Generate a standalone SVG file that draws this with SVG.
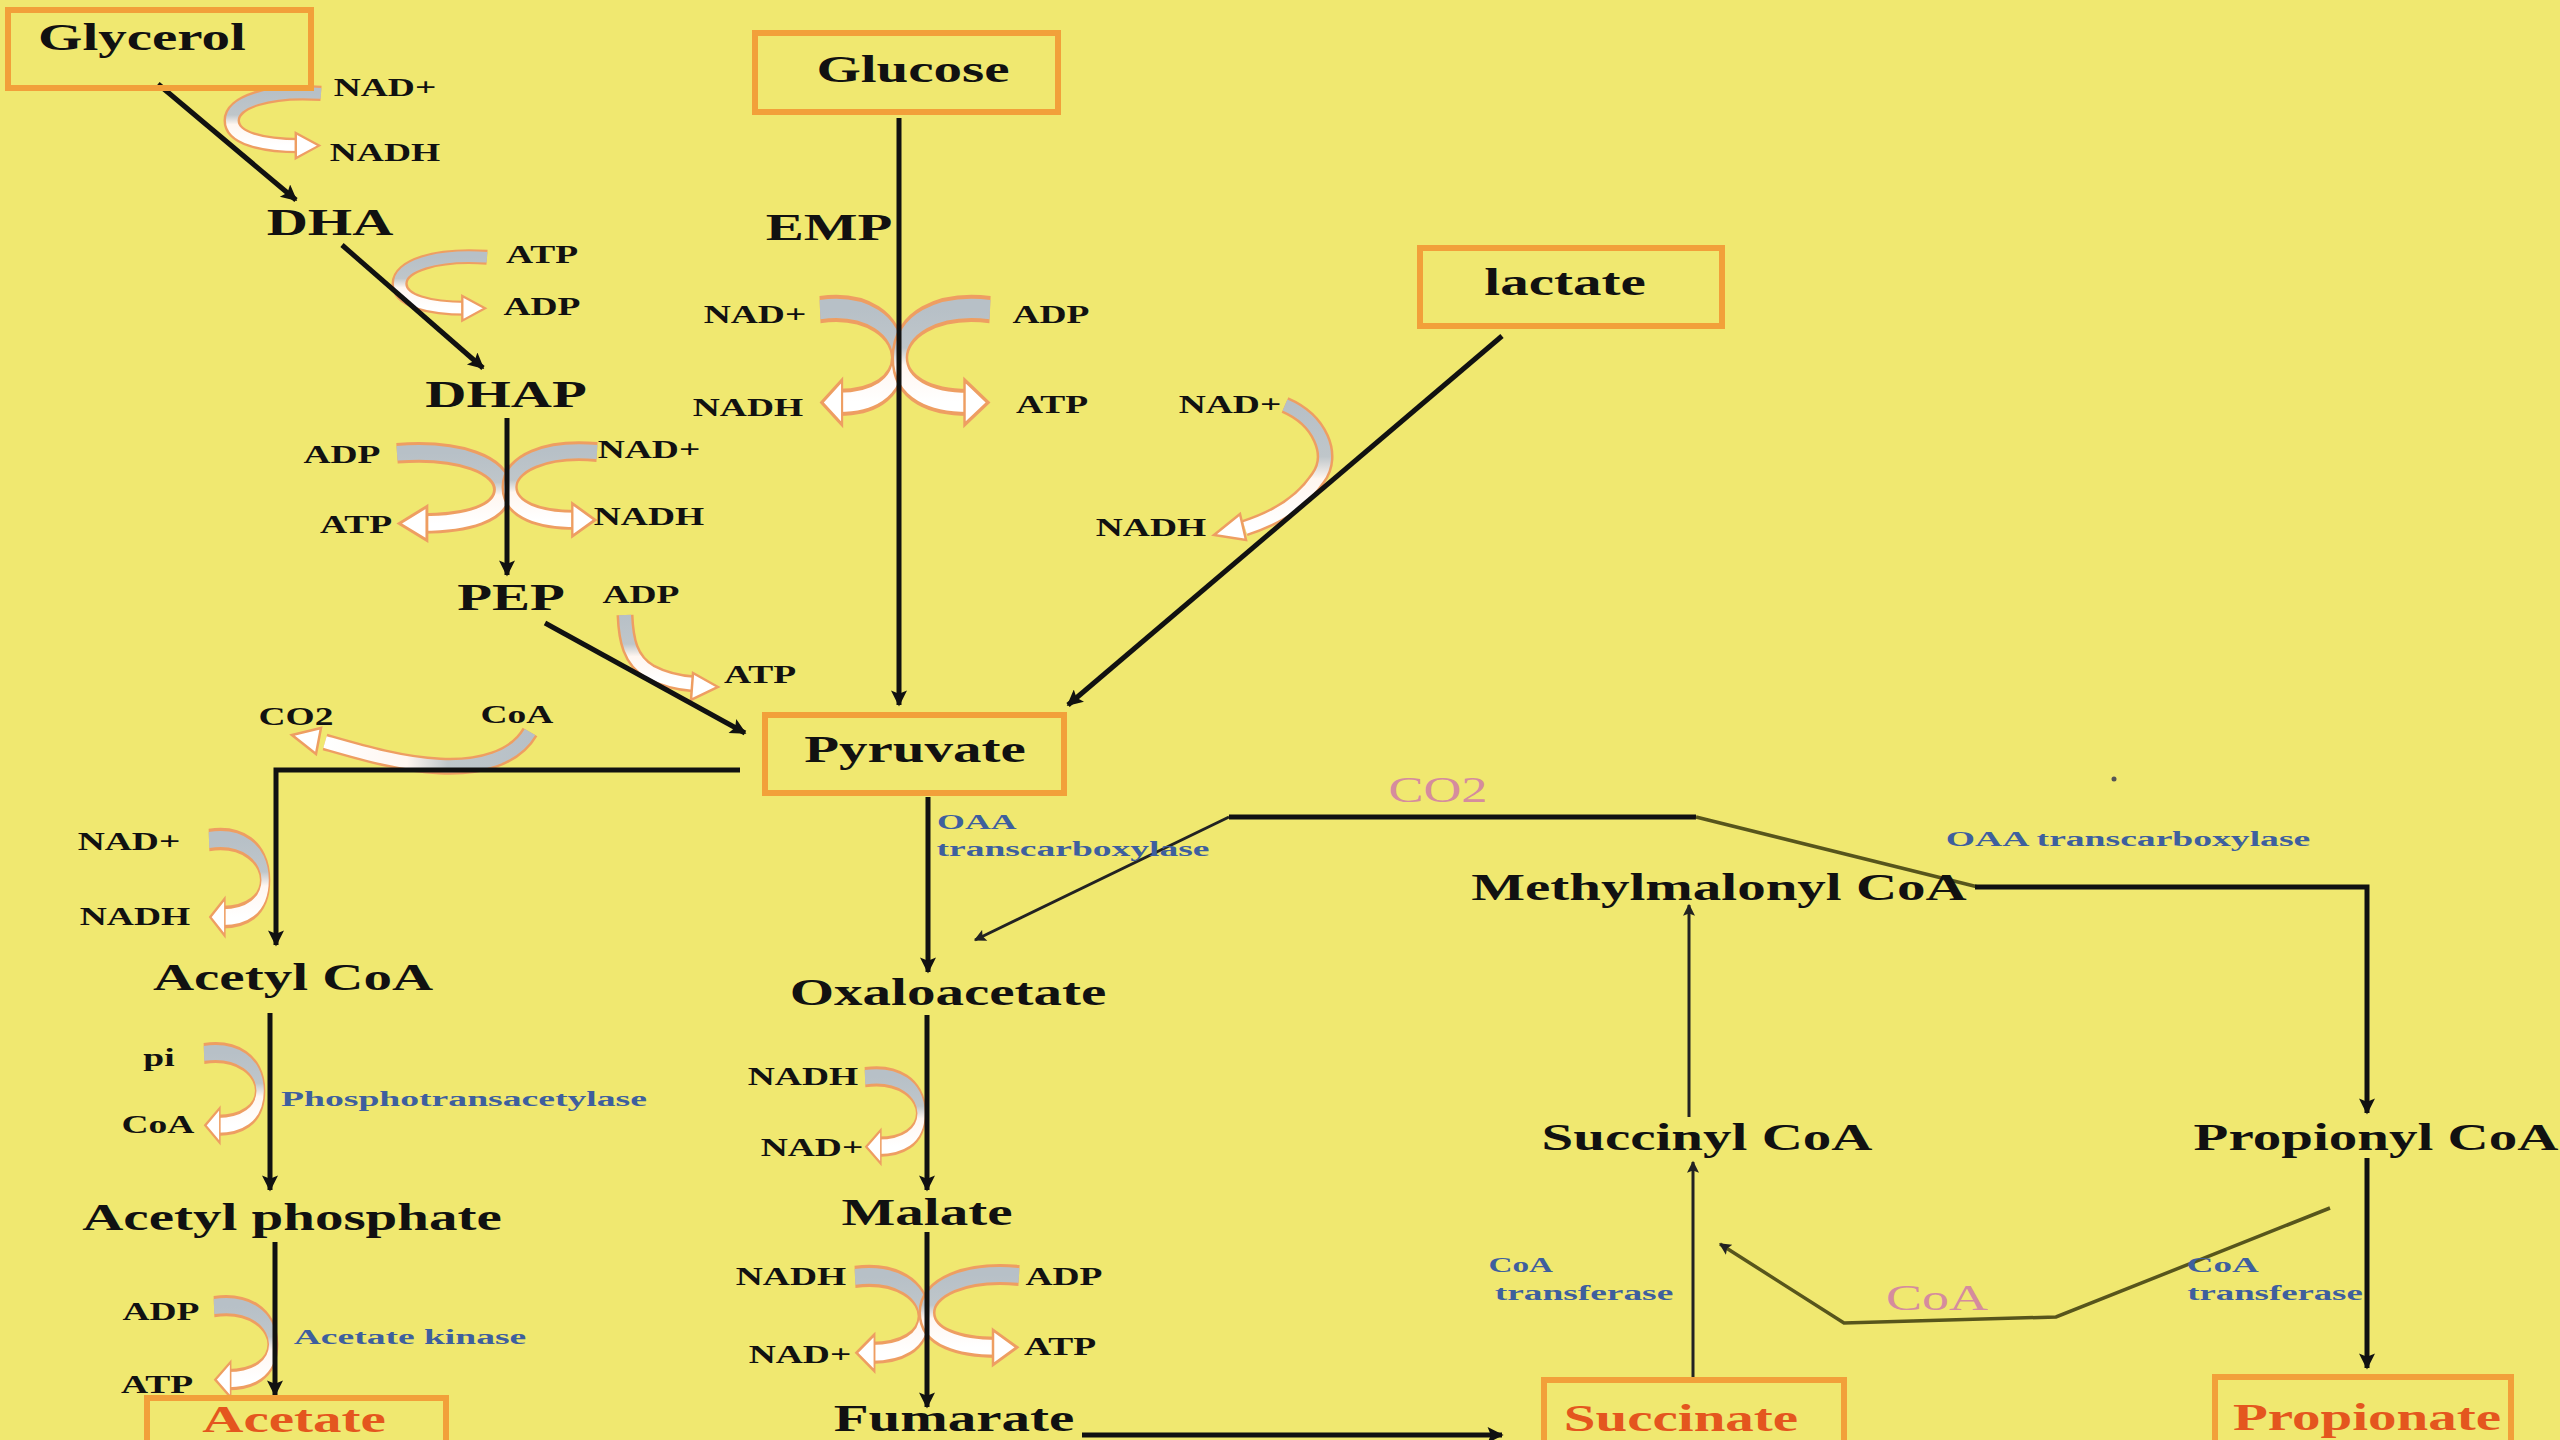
<svg xmlns="http://www.w3.org/2000/svg" width="2560" height="1440" viewBox="0 0 2560 1440">
<defs>
<style>
text{font-family:"Liberation Serif","Times New Roman",serif;font-weight:bold;text-anchor:middle;transform-box:fill-box;transform-origin:center;transform:scaleX(1.5);fill:#111;}
.b{font-size:38px;}
.s{font-size:25px;}
.e{font-size:22px;fill:#3E5F9E;}
.p{font-size:36px;font-weight:normal;fill:#D58C9E;}
.o{font-size:38px;fill:#E4561E;}
.box{fill:none;stroke:#F2A03A;stroke-width:6;}
.ln{fill:none;stroke:#111;stroke-width:5;}
.th{fill:none;stroke:#222;stroke-width:3;}
.ol{fill:none;stroke:#57551C;stroke-width:3.5;}
.cu{fill:none;stroke:#EE9E62;stroke-width:17;}
.cm{fill:none;stroke:url(#gw);stroke-width:12;}
.cmh{fill:none;stroke:url(#gwh);stroke-width:12;}
.ch{fill:#FFFFFF;stroke:#EE9E62;stroke-width:2.5;}
</style>
<linearGradient id="gw" x1="0" y1="0" x2="0" y2="1">
<stop offset="0" stop-color="#B7C0C7"/>
<stop offset="0.42" stop-color="#BFC6CA"/>
<stop offset="0.6" stop-color="#FFF6F0"/>
<stop offset="1" stop-color="#FFFFFF"/>
</linearGradient>
<linearGradient id="gwh" x1="1" y1="0" x2="0" y2="0">
<stop offset="0" stop-color="#B7C0C7"/>
<stop offset="0.4" stop-color="#BFC6CA"/>
<stop offset="0.6" stop-color="#FFF6F0"/>
<stop offset="1" stop-color="#FFFFFF"/>
</linearGradient>
<marker id="ah" viewBox="0 0 10 10" refX="9" refY="5" markerWidth="18" markerHeight="16" markerUnits="userSpaceOnUse" orient="auto"><path d="M0,0 L10,5 L0,10 L2,5 z" fill="#111"/></marker>
<marker id="ahs" viewBox="0 0 10 10" refX="9" refY="5" markerWidth="14" markerHeight="12" markerUnits="userSpaceOnUse" orient="auto"><path d="M0,0 L10,5 L0,10 L2,5 z" fill="#222"/></marker>
<g id="cup">
<path class="cu" d="M100,6 C45,2 8,16 8,36 C8,56 40,64 78,64"/>
<path class="cm" d="M100,6 C45,2 8,16 8,36 C8,56 40,64 78,64"/>
<polygon class="ch" points="74,50 98,64 74,78"/>
</g>
</defs>
<rect x="0" y="0" width="2560" height="1440" fill="#F0E870"/>

<g id="cofactor-arrows">
<use href="#cup" transform="translate(224,88) scale(0.97,0.9)"/>
<use href="#cup" transform="translate(392,252) scale(0.95,0.88)"/>
<use href="#cup" transform="translate(512,446) scale(-1.15,1.21)"/>
<use href="#cup" transform="translate(502,445) scale(0.95,1.17)"/>
<use href="#cup" transform="translate(905,300) scale(-0.85,1.6)"/>
<use href="#cup" transform="translate(892,300) scale(0.98,1.6)"/>
<use href="#cup" transform="translate(270,832) scale(-0.61,1.33)"/>
<use href="#cup" transform="translate(265,1046) scale(-0.61,1.24)"/>
<use href="#cup" transform="translate(278,1299) scale(-0.64,1.26)"/>
<use href="#cup" transform="translate(926,1070) scale(-0.61,1.2)"/>
<use href="#cup" transform="translate(930,1269) scale(-0.75,1.31)"/>
<use href="#cup" transform="translate(919,1268) scale(1.0,1.24)"/>
<g id="cof-lactate">
<path class="cu" d="M1285,405 C1320,420 1335,455 1318,478 C1300,505 1270,520 1245,528"/>
<path class="cm" d="M1285,405 C1320,420 1335,455 1318,478 C1300,505 1270,520 1245,528"/>
<polygon class="ch" points="1214,535 1240,514 1246,540"/>
</g>
<g id="cof-pep">
<path class="cu" d="M625,615 C626,640 630,660 650,672 C665,680 680,683 695,684"/>
<path class="cm" d="M625,615 C626,640 630,660 650,672 C665,680 680,683 695,684"/>
<polygon class="ch" points="718,687 693,673 691,700"/>
</g>
<g id="cof-co2-coa">
<path class="cu" d="M530,732 C515,758 480,768 440,766 C400,764 360,752 325,742"/>
<path class="cmh" d="M530,732 C515,758 480,768 440,766 C400,764 360,752 325,742"/>
<polygon class="ch" points="292,735 321,728 316,754"/>
</g>
</g>

<g id="connectors">
<line class="ln" x1="158" y1="84" x2="296" y2="200" marker-end="url(#ah)"/>
<line class="ln" x1="342" y1="245" x2="483" y2="368" marker-end="url(#ah)"/>
<line class="ln" x1="507" y1="418" x2="507" y2="575" marker-end="url(#ah)"/>
<line class="ln" x1="545" y1="623" x2="745" y2="733" marker-end="url(#ah)"/>
<line class="ln" x1="899" y1="118" x2="899" y2="705" stroke-width="6" marker-end="url(#ah)"/>
<line class="ln" x1="1502" y1="336" x2="1068" y2="705" stroke-width="4" marker-end="url(#ah)"/>
<path class="ln" d="M740,770 H276 V945" marker-end="url(#ah)"/>
<line class="ln" x1="270" y1="1013" x2="270" y2="1190" marker-end="url(#ah)"/>
<line class="ln" x1="275" y1="1242" x2="275" y2="1395" marker-end="url(#ah)"/>
<line class="ln" x1="928" y1="797" x2="928" y2="972" stroke-width="6" marker-end="url(#ah)"/>
<line class="ln" x1="927" y1="1015" x2="927" y2="1190" stroke-width="6" marker-end="url(#ah)"/>
<line class="ln" x1="927" y1="1232" x2="927" y2="1407" stroke-width="6" marker-end="url(#ah)"/>
<line class="ln" x1="1082" y1="1435" x2="1502" y2="1435" marker-end="url(#ah)"/>
<line class="ln" x1="1229" y1="817" x2="1696" y2="817" stroke-width="6"/>
<line class="th" x1="1229" y1="817" x2="975" y2="940" marker-end="url(#ahs)"/>
<line class="ol" x1="1696" y1="817" x2="1978" y2="887" stroke-width="3"/>
<path class="ln" d="M1975,887 H2367 V1113" marker-end="url(#ah)"/>
<line class="ln" x1="2367" y1="1158" x2="2367" y2="1368" stroke-width="6" marker-end="url(#ah)"/>
<line class="th" x1="1693" y1="1378" x2="1693" y2="1162" stroke-width="3.5" marker-end="url(#ahs)"/>
<line class="th" x1="1689" y1="1117" x2="1689" y2="905" stroke-width="3.5" marker-end="url(#ahs)"/>
<polyline class="ol" points="2330,1208 2056,1317 1844,1323 1720,1244" marker-end="url(#ahs)"/>
</g>

<g id="n-glycerol"><rect class="box" x="8" y="10" width="303" height="78"/><text class="b" x="142" y="50">Glycerol</text></g>
<g id="n-dha"><text class="b" x="330" y="235">DHA</text></g>
<g id="n-dhap"><text class="b" x="506" y="407">DHAP</text></g>
<g id="n-pep"><text class="b" x="511" y="610">PEP</text></g>
<g id="n-glucose"><rect class="box" x="755" y="33" width="303" height="79"/><text class="b" x="913" y="82">Glucose</text></g>
<g id="n-emp"><text class="b" x="829" y="240">EMP</text></g>
<g id="n-lactate"><rect class="box" x="1420" y="248" width="302" height="78"/><text class="b" x="1565" y="295">lactate</text></g>
<g id="n-pyruvate"><rect class="box" x="765" y="715" width="299" height="78"/><text class="b" x="915" y="762">Pyruvate</text></g>
<g id="n-acetylcoa"><text class="b" x="293" y="990">Acetyl CoA</text></g>
<g id="n-acetylphosphate"><text class="b" x="292" y="1230">Acetyl phosphate</text></g>
<g id="n-acetate"><rect class="box" x="147" y="1398" width="299" height="80"/><text class="o" x="294" y="1432">Acetate</text></g>
<g id="n-oxaloacetate"><text class="b" x="948" y="1005">Oxaloacetate</text></g>
<g id="n-malate"><text class="b" x="927" y="1225">Malate</text></g>
<g id="n-fumarate"><text class="b" x="954" y="1431">Fumarate</text></g>
<g id="n-methylmalonylcoa"><text class="b" x="1719" y="900">Methylmalonyl CoA</text></g>
<g id="n-succinylcoa"><text class="b" x="1707" y="1150">Succinyl CoA</text></g>
<g id="n-propionylcoa"><text class="b" x="2376" y="1150">Propionyl CoA</text></g>
<g id="n-succinate"><rect class="box" x="1544" y="1380" width="300" height="80"/><text class="o" x="1681" y="1431">Succinate</text></g>
<g id="n-propionate"><rect class="box" x="2215" y="1377" width="296" height="80"/><text class="o" x="2367" y="1430">Propionate</text></g>

<g id="cofactor-labels">
<text class="s" x="385" y="96">NAD+</text>
<text class="s" x="385" y="161">NADH</text>
<text class="s" x="542" y="263">ATP</text>
<text class="s" x="542" y="315">ADP</text>
<text class="s" x="342" y="463">ADP</text>
<text class="s" x="649" y="458">NAD+</text>
<text class="s" x="356" y="533">ATP</text>
<text class="s" x="649" y="525">NADH</text>
<text class="s" x="641" y="603">ADP</text>
<text class="s" x="760" y="683">ATP</text>
<text class="s" x="296" y="725">CO2</text>
<text class="s" x="517" y="723">CoA</text>
<text class="s" x="129" y="850">NAD+</text>
<text class="s" x="135" y="925">NADH</text>
<text class="s" x="159" y="1066">pi</text>
<text class="s" x="158" y="1133">CoA</text>
<text class="s" x="161" y="1320">ADP</text>
<text class="s" x="157" y="1393">ATP</text>
<text class="s" x="755" y="323">NAD+</text>
<text class="s" x="1051" y="323">ADP</text>
<text class="s" x="748" y="416">NADH</text>
<text class="s" x="1052" y="413">ATP</text>
<text class="s" x="1230" y="413">NAD+</text>
<text class="s" x="1151" y="536">NADH</text>
<text class="s" x="803" y="1085">NADH</text>
<text class="s" x="812" y="1156">NAD+</text>
<text class="s" x="791" y="1285">NADH</text>
<text class="s" x="1064" y="1285">ADP</text>
<text class="s" x="800" y="1363">NAD+</text>
<text class="s" x="1060" y="1355">ATP</text>
<text class="p" x="1438" y="802" style="font-size:35px">CO2</text>
<text class="p" x="1937" y="1310">CoA</text>
</g>

<g id="enzyme-labels">
<text class="e" x="977" y="829" textLength="53" lengthAdjust="spacingAndGlyphs">OAA</text>
<text class="e" x="1073" y="856" textLength="182" lengthAdjust="spacingAndGlyphs">transcarboxylase</text>
<text class="e" x="2128" y="846" textLength="243" lengthAdjust="spacingAndGlyphs">OAA transcarboxylase</text>
<text class="e" x="464" y="1106" textLength="244" lengthAdjust="spacingAndGlyphs">Phosphotransacetylase</text>
<text class="e" x="410" y="1344" textLength="155" lengthAdjust="spacingAndGlyphs">Acetate kinase</text>
<text class="e" x="1521" y="1272" textLength="43" lengthAdjust="spacingAndGlyphs">CoA</text>
<text class="e" x="1584" y="1300" textLength="119" lengthAdjust="spacingAndGlyphs">transferase</text>
<text class="e" x="2223" y="1272" textLength="48" lengthAdjust="spacingAndGlyphs">CoA</text>
<text class="e" x="2275" y="1300" textLength="117" lengthAdjust="spacingAndGlyphs">transferase</text>
</g>
<circle cx="2114" cy="779" r="2.5" fill="#555"/>
</svg>
